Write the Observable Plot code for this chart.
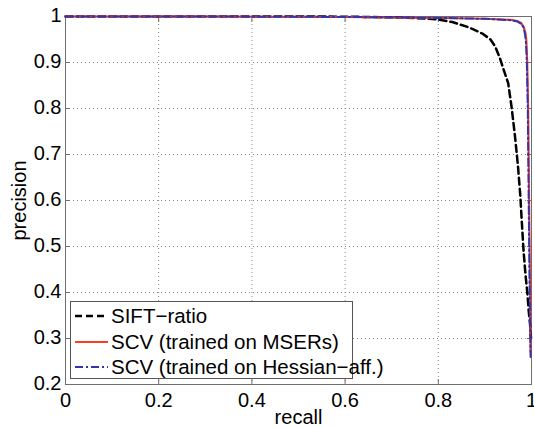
<!DOCTYPE html>
<html><head><meta charset="utf-8">
<script src="https://cdn.jsdelivr.net/npm/d3@7"></script>
<script src="https://cdn.jsdelivr.net/npm/@observablehq/plot@0.6"></script>
<style>
body{margin:0;background:#fff}
#wrap{position:relative;width:534px;height:427px;font-family:"Liberation Sans",Arial,Helvetica,sans-serif}
#legend{position:absolute;left:70px;top:301px;width:281px;height:76px;border:1px solid #555;background:#fff;box-sizing:content-box}
.row{position:absolute;left:0;height:24px;display:flex;align-items:center;font-size:20.5px;color:#000;white-space:nowrap}
.row svg{margin-left:4px;margin-right:3px}
</style></head><body><div id="wrap"></div>
<script>
// SIFT-ratio curve
const siftRecall    = [0, 0.2, 0.4, 0.55, 0.65, 0.72, 0.78, 0.803, 0.83, 0.861, 0.88, 0.896, 0.912, 0.922, 0.932, 0.94, 0.95, 0.957, 0.964, 0.971, 0.976, 0.979, 0.983, 0.987, 0.991, 0.994, 0.997, 0.999];
const siftPrecision = [1, 1, 1, 1, 0.999, 0.998, 0.995, 0.993, 0.988, 0.978, 0.97, 0.962, 0.95, 0.935, 0.91, 0.885, 0.855, 0.805, 0.745, 0.675, 0.61, 0.557, 0.49, 0.44, 0.40, 0.36, 0.33, 0.30];
// SCV trained on MSERs
const mserRecall    = [0, 0.3, 0.6, 0.8, 0.9, 0.955, 0.97, 0.978, 0.983, 0.987, 0.989, 0.991, 0.993, 0.995, 0.997, 0.998];
const mserPrecision = [1, 1, 0.999, 0.997, 0.995, 0.993, 0.99, 0.986, 0.978, 0.965, 0.95, 0.9, 0.8, 0.6, 0.4, 0.27];
// SCV trained on Hessian-affine
const hessRecall    = [0, 0.3, 0.6, 0.8, 0.9, 0.955, 0.97, 0.978, 0.983, 0.986, 0.988, 0.99, 0.992, 0.994, 0.996, 0.998];
const hessPrecision = [1, 1, 0.999, 0.997, 0.995, 0.992, 0.989, 0.984, 0.976, 0.962, 0.945, 0.9, 0.8, 0.6, 0.4, 0.26];

const seriesNames = ["SIFT\u2212ratio", "SCV (trained on MSERs)", "SCV (trained on Hessian\u2212aff.)"];
const seriesColors = ["#000000", "#ff3c1e", "#3434b0"];
const seriesDash = ["7,4", null, "8,3,2,3"];
const seriesWidth = [2.5, 2, 2];

const xTicks = [0, 0.2, 0.4, 0.6, 0.8, 1];
const xTickLabels = ["0", "0.2", "0.4", "0.6", "0.8", "1"];
const yTicks = [0.2, 0.3, 0.4, 0.5, 0.6, 0.7, 0.8, 0.9, 1];
const yTickLabels = ["0.2", "0.3", "0.4", "0.5", "0.6", "0.7", "0.8", "0.9", "1"];

const toRows = (rs, ps) => rs.map((r, i) => ({recall: r, precision: ps[i]}));
const curves = [toRows(siftRecall, siftPrecision), toRows(mserRecall, mserPrecision), toRows(hessRecall, hessPrecision)];

const font = '"Liberation Sans",Arial,Helvetica,sans-serif';
const chart = Plot.plot({
  width: 534, height: 427,
  marginLeft: 65, marginRight: 3, marginTop: 16, marginBottom: 43,
  style: {fontFamily: font, fontSize: "20px", color: "#000", background: "#fff"},
  x: {domain: [0, 1]},
  y: {domain: [0.2, 1]},
  marks: [
    Plot.gridX(xTicks, {stroke: "#8a8a8a", strokeOpacity: 1, strokeDasharray: "1,3"}),
    Plot.gridY(yTicks, {stroke: "#8a8a8a", strokeOpacity: 1, strokeDasharray: "1,3"}),
    Plot.axisX(xTicks, {anchor: "bottom", tickSize: 0, tickPadding: 8, tickFormat: (d) => xTickLabels[xTicks.indexOf(d)], label: "recall", labelAnchor: "center", labelArrow: "none", labelOffset: 39, fontSize: 20}),
    Plot.axisY(yTicks, {anchor: "left", tickSize: 0, tickPadding: 4, dy: -1, tickFormat: (d) => yTickLabels[yTicks.indexOf(d)], label: "precision", labelAnchor: "center", labelArrow: "none", labelOffset: 54, fontSize: 20}),
    Plot.axisX(xTicks, {anchor: "bottom", tickSize: -5, tickFormat: () => "", label: null, stroke: "#6e6e6e"}),
    Plot.axisX(xTicks, {anchor: "top", tickSize: -5, tickFormat: () => "", label: null, stroke: "#6e6e6e"}),
    Plot.axisY(yTicks, {anchor: "left", tickSize: -5, tickFormat: () => "", label: null, stroke: "#6e6e6e"}),
    Plot.axisY(yTicks, {anchor: "right", tickSize: -5, tickFormat: () => "", label: null, stroke: "#6e6e6e"}),
    Plot.frame({stroke: "#6e6e6e"}),
    ...curves.map((data, i) => Plot.line(data, {
      x: "recall", y: "precision", stroke: seriesColors[i], strokeWidth: seriesWidth[i],
      strokeDasharray: seriesDash[i], strokeLinejoin: "round", clip: false
    }))
  ]
});
const wrap = document.getElementById("wrap");
wrap.appendChild(chart);

const legend = document.createElement("div");
legend.id = "legend";
seriesNames.forEach((name, i) => {
  const row = document.createElement("div");
  row.className = "row";
  row.style.top = (2 + i * 25.5) + "px";
  row.innerHTML = `<svg width="33" height="6"><line x1="0" y1="3" x2="33" y2="3" stroke="${seriesColors[i]}" stroke-width="${seriesWidth[i]}" ${seriesDash[i] ? `stroke-dasharray="${seriesDash[i]}"` : ""}/></svg><span>${name}</span>`;
  legend.appendChild(row);
});
wrap.appendChild(legend);
</script>
</body></html>
